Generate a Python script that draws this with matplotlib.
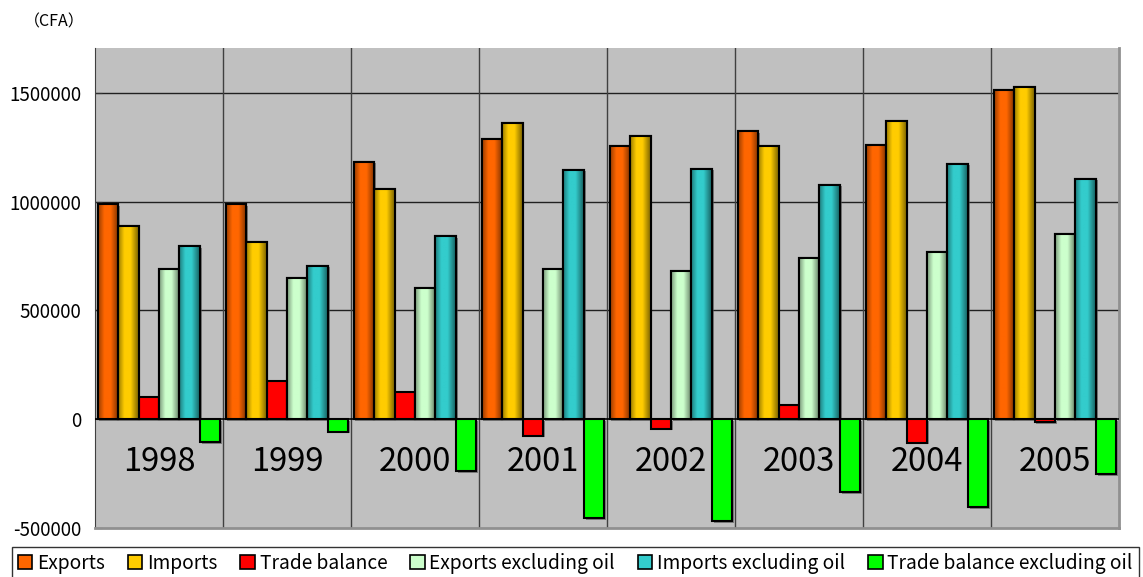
import matplotlib.pyplot as plt
import matplotlib.patheffects as pe
import numpy as np

plt.rcParams['font.family'] = ['Noto Sans CJK JP', 'DejaVu Sans']

years = ['1998', '1999', '2000', '2001', '2002', '2003', '2004', '2005']
exports = [989000, 989000, 1183000, 1286000, 1257000, 1323000, 1261000, 1514000]
imports = [887000, 815000, 1058000, 1362000, 1300000, 1257000, 1369000, 1529000]
trade_balance = [102000, 174000, 125000, -76000, -43000, 66000, -108000, -15000]
exports_ex_oil = [690000, 647000, 603000, 691000, 683000, 743000, 769000, 853000]
imports_ex_oil = [794000, 705000, 841000, 1147000, 1151000, 1078000, 1174000, 1106000]
balance_ex_oil = [-104000, -58000, -238000, -456000, -468000, -335000, -405000, -253000]

series = [
    ('Exports', exports, '#FF6600', True),
    ('Imports', imports, '#FFCC00', True),
    ('Trade balance', trade_balance, '#FF0000', False),
    ('Exports excluding oil', exports_ex_oil, '#CCFFCC', True),
    ('Imports excluding oil', imports_ex_oil, '#33CCCC', True),
    ('Trade balance excluding oil', balance_ex_oil, '#00FF00', False),
]

fig = plt.figure(figsize=(11.43, 5.77), dpi=100)
ax = fig.add_axes([95 / 1143, 49 / 577, 1024 / 1143, 480 / 577])
ax.set_facecolor('#C0C0C0')

# horizontal grid and category separators
for yv in [500000, 1000000, 1500000]:
    ax.axhline(yv, color='#202020', lw=1.0, zorder=1)
for i in range(1, len(years)):
    ax.axvline(i, color='#404040', lw=1.0, zorder=1)
ax.axhline(0, color='black', lw=1.2, zorder=5)

# horizontal shading profile of the cylinder-like bars
t = np.linspace(0, 1, 64)
shade = np.interp(t, [0, 0.3, 0.6, 1], [0.6, 1.0, 1.0, 0.48])

w = 0.16
x = np.arange(len(years)) + 0.5
shadow = [pe.SimplePatchShadow(offset=(1.2, -1.2), shadow_rgbFace='#505050', alpha=0.6), pe.Normal()]
for k, (name, vals, col, grad) in enumerate(series):
    xs = x + (k - 2.5) * w
    ax.bar(xs, vals, w, color=col, edgecolor='black', lw=1.5, zorder=3, path_effects=shadow)
    if grad:
        rgb = np.array(plt.matplotlib.colors.to_rgb(col))
        img = (shade[:, None] * rgb[None, :])[None, :, :]
        for xc, v in zip(xs, vals):
            ax.imshow(img, extent=[xc - w / 2, xc + w / 2, 0, v], aspect='auto',
                      interpolation='bilinear', zorder=3.5)
        ax.bar(xs, vals, w, color='none', edgecolor='black', lw=1.5, zorder=4)

ax.set_xlim(0, len(years))
ax.set_ylim(-500000, 1706000)

for xc, yr in zip(x, years):
    ax.text(xc, -197000, yr, ha='center', va='center', fontsize=23.5, zorder=6)

ax.set_xticks([])
ax.set_yticks([-500000, 0, 500000, 1000000, 1500000])
ax.set_yticklabels(['-500000', '0', '500000', '1000000', '1500000'], fontsize=13.5)
ax.tick_params(axis='y', direction='in', length=5, color='#303030', pad=10)

ax.spines['left'].set_color('#404040')
ax.spines['top'].set_visible(False)
for s in ['right', 'bottom']:
    ax.spines[s].set_color('#909090')
    ax.spines[s].set_linewidth(2)

fig.text(24 / 1143, 1 - 22 / 577, '（CFA）', fontsize=11.5, va='center', ha='left')

handles = [plt.Rectangle((0, 0), 1, 1, facecolor=c, edgecolor='black', lw=1.2) for _, _, c, _ in series]
labels = [s[0] for s in series]
leg = fig.legend(handles, labels, loc='upper left', bbox_to_anchor=(12 / 1143, 1 - 547 / 577),
                 ncol=6, fontsize=13.8, frameon=True, fancybox=False, edgecolor='black',
                 handlelength=0.75, handleheight=0.75, handletextpad=0.25, columnspacing=1.2,
                 borderpad=0.3, borderaxespad=0)
leg.get_frame().set_linewidth(1.0)

fig.savefig('out.png', dpi=100)
